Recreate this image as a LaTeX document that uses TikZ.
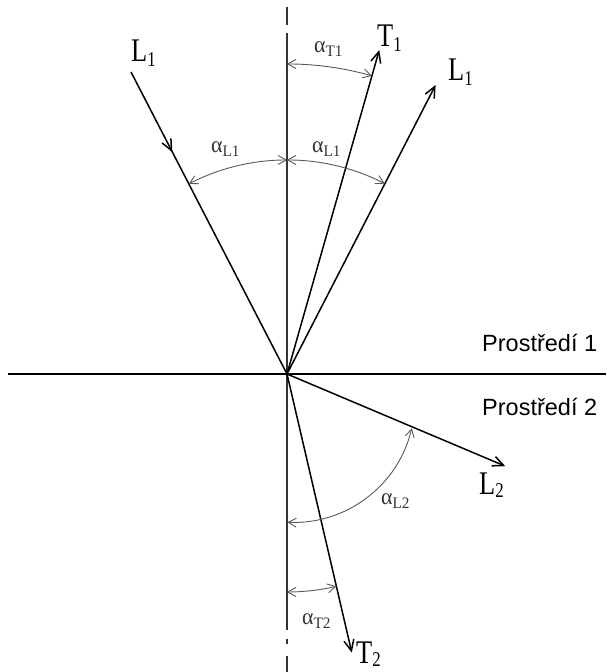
\documentclass[tikz,border=0pt]{standalone}
\usepackage{fontspec}
\setmainfont{Liberation Serif}
\newfontfamily\bigf[FakeStretch=0.8]{Liberation Serif}
\newfontfamily\alf[FakeStretch=0.95]{Liberation Serif}
\newfontfamily\sansf{Liberation Sans}
\usetikzlibrary{arrows.meta,decorations.markings}
\newcommand\biglab[3][-5pt]{{\bigf\fontsize{33}{33}\selectfont #2\raisebox{#1}{\fontsize{21}{21}\selectfont #3}}}
\newcommand\alab[1]{{\alf\fontsize{23}{23}\selectfont α\raisebox{-3.5pt}{\fontsize{16}{16}\selectfont #1}}}
\begin{document}
\begin{tikzpicture}[x=1pt,y=1pt,
  ray/.style={line width=1.5pt,-{Straight Barb[length=11pt,width=10pt,line width=1.5pt]}},
  inray/.style={line width=1.5pt,postaction={decorate},
    decoration={markings,mark=at position 0.265 with {\arrow{Straight Barb[length=11pt,width=10pt,line width=1.5pt]}}}},
  arcst/.style={line width=0.9pt,black!65,{Straight Barb[length=8pt,width=9pt,line width=0.9pt]}-{Straight Barb[length=8pt,width=9pt,line width=0.9pt]}},
  axis/.style={line width=1.1pt,black!80},
  bound/.style={line width=1.4pt},
  lab/.style={anchor=base west,inner sep=0pt},
  alab/.style={anchor=base west,inner sep=0pt,text=black!80},
  medium/.style={anchor=base west,inner sep=0pt,font=\sansf\fontsize{23.5}{24}\selectfont}]
\useasboundingbox (0,0) rectangle (606,672);
% origin and ends
\coordinate (O) at (287,298);
\coordinate (Hl) at (8,298);
\coordinate (Hr) at (606,298);
\coordinate (Vt1) at (287,665); \coordinate (Vt2) at (287,647);
\coordinate (Vm1) at (287,639); \coordinate (Vm2) at (287,42);
\coordinate (Vb1) at (287,33); \coordinate (Vb2) at (287,28);
\coordinate (Vc1) at (287,16); \coordinate (Vc2) at (287,0);
\coordinate (Lin) at (131,600);
\coordinate (Lref) at (435.6,587);
\coordinate (Tone) at (379.3,622);
\coordinate (Ltwo) at (505.3,205.8);
\coordinate (Ttwo) at (351.8,19.4);
\coordinate (C2) at (293.1,271.4);
% boundary and normal
\draw[bound] (Hl) -- (Hr);
\draw[axis] (Vt1) -- (Vt2);
\draw[axis] (Vm1) -- (Vm2);
\draw[axis] (Vb1) -- (Vb2);
\draw[axis] (Vc1) -- (Vc2);
% rays
\draw[inray] (Lin) -- (O);
\draw[ray] (O) -- (Lref);
\draw[ray] (O) -- (Tone);
\draw[ray] (O) -- (Ltwo);
\draw[ray] (O) -- (Ttwo);
% angle arcs
\draw[arcst] ([shift={(90:214)}]O) arc[start angle=90,end angle=117.3,radius=214];
\draw[arcst] ([shift={(90:214)}]O) arc[start angle=90,end angle=62.8,radius=214];
\draw[arcst] ([shift={(90:310)}]O) arc[start angle=90,end angle=74.1,radius=310];
\draw[arcst] ([shift={(-92.7:121.8)}]C2) arc[start angle=-92.7,end angle=-13.1,radius=121.8];
\draw[arcst] ([shift={(-90:218)}]O) arc[start angle=-90,end angle=-76.9,radius=218];
% labels
\node[lab] (lL1a) at (131,610) {\biglab{L}{1}};
\node[lab] (lT1) at (377,625) {\biglab{T}{1}};
\node[lab] (lL1b) at (448,591) {\biglab{L}{1}};
\node[lab] (lL2) at (479,177) {\biglab[-3pt]{L}{2}};
\node[lab] (lT2) at (356,9) {\biglab[-3pt]{T}{2}};
\node[alab] (aT1) at (314,619) {\alab{T1}};
\node[alab] (aL1a) at (211,519) {\alab{L1}};
\node[alab] (aL1b) at (312,519) {\alab{L1}};
\node[alab] (aL2) at (381,167) {\alab{L2}};
\node[alab] (aT2) at (302,47) {\alab{T2}};
\node[medium] (m1) at (482,320) {Prostředí 1};
\node[medium] (m2) at (482,256) {Prostředí 2};
\end{tikzpicture}
\end{document}
